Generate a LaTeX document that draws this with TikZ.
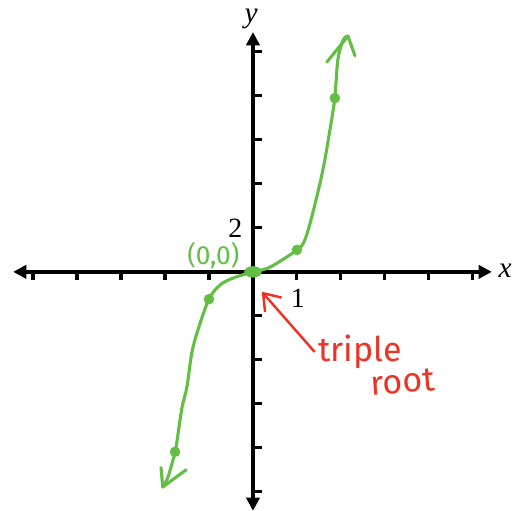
\documentclass[tikz,border=0pt]{standalone}
\usepackage{fontspec}
\setmainfont{Liberation Serif}
\newfontfamily\handfont{Fira Sans}
\usepackage{tikz}
\usetikzlibrary{arrows.meta, positioning, calc}
\definecolor{curvegreen}{RGB}{98,190,68}
\definecolor{notered}{RGB}{236,52,36}

\begin{document}
\begin{tikzpicture}[
    axisline/.style={line width=2.6pt, {Triangle[length=0.3cm,width=0.3cm]}-{Triangle[length=0.3cm,width=0.3cm]}},
    tickmark/.style={line width=2pt},
    greenline/.style={curvegreen, line width=2pt, line cap=round, line join=round},
    handtext/.style={font=\handfont\fontsize{22}{24}\selectfont, inner sep=0pt}
]
    \useasboundingbox (-5.75,-5.43) rectangle (6.07,6.18);

    % Axes
    \draw[axisline] (-5.45,0) -- (5.43,0);
    \draw[axisline] (0,-5.43) -- (0,5.45);
    % Tick marks
    \foreach \i in {-5,-4,-3,-2,-1,1,2,3,4,5} {
        \draw[tickmark] (\i,0) -- ++(0,-0.18);
        \draw[tickmark] (0,\i) -- ++(0.2,0);
    }
    % Axis labels
    \node[font=\fontsize{19}{20}\selectfont\itshape] (xlab) at (5.73,0.03) {x};
    \node[font=\fontsize{19}{20}\selectfont\itshape] (ylab) at (-0.04,5.76) {y};
    \node[font=\fontsize{18}{19}\selectfont] (two) at (-0.4,1.0) {2};
    \node[font=\fontsize{18}{19}\selectfont] (one) at (1.02,-0.6) {1};

    % Curve y = x^3
    \coordinate (lowtip) at (-2.05,-4.89);
    \coordinate (toptip) at (2.16,5.36);
    \draw[greenline] plot[smooth, tension=0.55] coordinates {
        (-2.05,-4.89) (-1.93,-4.66) (-1.77,-4.09) (-1.7,-3.66) (-1.61,-3.07)
        (-1.5,-2.61) (-1.39,-1.84) (-1.25,-1.32) (-1.0,-0.62) (-0.75,-0.3)
        (-0.45,-0.14) (0,0) (0.39,0.11) (1.0,0.5) (1.18,0.73) (1.36,1.34)
        (1.59,2.32) (1.75,3.23) (1.86,3.95) (1.93,4.82) (2.05,5.27) (2.16,5.36)};
    % Hand drawn arrow heads
    \coordinate (topbarbL) at (1.68,4.77);
    \coordinate (topbarbR) at (2.32,4.91);
    \coordinate (lowbarbL) at (-2.09,-4.45);
    \coordinate (lowbarbR) at (-1.52,-4.5);
    \draw[greenline] (topbarbL) -- (toptip) -- (topbarbR);
    \draw[greenline] (lowbarbL) -- (lowtip) -- (lowbarbR);

    % Points
    \coordinate (orig) at (0,0);
    \foreach \pname/\px/\py in {pA/1.0/0.5, pB/1.86/3.95, pC/-1.0/-0.62, pD/-1.77/-4.09} {
        \coordinate (\pname) at (\px,\py);
        \fill[curvegreen] (\pname) circle (0.12);
    }
    \fill[curvegreen] (orig) ellipse (0.2 and 0.13);
    \node[font=\handfont\fontsize{17}{18}\selectfont, text=curvegreen] (origlab) at (-0.9,0.36) {(0,0)};

    % Note
    \node[handtext, text=notered] (triple) at (2.43,-1.82) {triple};
    \node[handtext, text=notered, rotate=4] (root) at (3.4,-2.5) {root};
    \coordinate (rtip) at (0.2,-0.45);
    \draw[notered, line width=1.6pt, -{Straight Barb[length=0.35cm,width=0.5cm]}] ([xshift=-2pt]triple.west) -- (rtip);
\end{tikzpicture}
\end{document}
